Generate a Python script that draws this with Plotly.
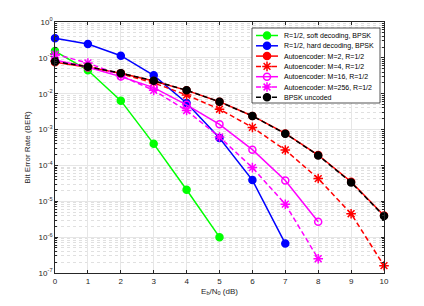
import plotly.graph_objects as go

ebn0 = [0, 1, 2, 3, 4, 5, 6, 7, 8, 9, 10]

soft_x = [0, 1, 2, 3, 4, 5]
soft_ber = [0.155, 0.045, 0.0064, 4.0e-4, 2.1e-5, 1.0e-6]

hard_x = [0, 1, 2, 3, 4, 5, 6, 7]
hard_ber = [0.35, 0.244, 0.115, 0.0326, 0.0055, 5.8e-4, 3.9e-5, 6.6e-7]

ae2_x = ebn0
ae2_ber = [0.076, 0.055, 0.037, 0.0225, 0.0124, 0.0060, 0.0024, 7.8e-4, 1.95e-4, 3.5e-5, 4.0e-6]

ae4_x = ebn0
ae4_ber = [0.082, 0.058, 0.036, 0.020, 0.0092, 0.0037, 1.15e-3, 2.7e-4, 4.3e-5, 4.5e-6, 1.6e-7]

ae16_x = [0, 1, 2, 3, 4, 5, 6, 7, 8]
ae16_ber = [0.087, 0.055, 0.030, 0.0148, 0.0049, 1.4e-3, 2.75e-4, 3.8e-5, 2.7e-6]

ae256_x = [0, 1, 2, 3, 4, 5, 6, 7, 8]
ae256_ber = [0.126, 0.072, 0.032, 0.0124, 0.0034, 6.2e-4, 8.7e-5, 8.3e-6, 2.5e-7]

bpsk_x = ebn0
bpsk_ber = [0.0786, 0.0563, 0.0375, 0.0229, 0.0125, 0.00595, 0.00239, 7.7e-4, 1.9e-4, 3.36e-5, 3.87e-6]

y_tickvals = [1e0, 1e-1, 1e-2, 1e-3, 1e-4, 1e-5, 1e-6, 1e-7]
y_ticktext = ["10<sup>0</sup>", "10<sup>-1</sup>", "10<sup>-2</sup>", "10<sup>-3</sup>",
              "10<sup>-4</sup>", "10<sup>-5</sup>", "10<sup>-6</sup>", "10<sup>-7</sup>"]

series = [
    ("R=1/2, soft decoding, BPSK", soft_x, soft_ber, "#00ff00", "solid", "circle", 7),
    ("R=1/2, hard decoding, BPSK", hard_x, hard_ber, "#0000ff", "solid", "circle", 7),
    ("Autoencoder: M=2, R=1/2", ae2_x, ae2_ber, "#ff0000", "solid", "circle", 7),
    ("Autoencoder: M=4, R=1/2", ae4_x, ae4_ber, "#ff0000", "5px,3px", "asterisk-open", 8),
    ("Autoencoder: M=16, R=1/2", ae16_x, ae16_ber, "#ff00ff", "solid", "circle-open", 7),
    ("Autoencoder: M=256, R=1/2", ae256_x, ae256_ber, "#ff00ff", "5px,3px", "asterisk-open", 8),
    ("BPSK uncoded", bpsk_x, bpsk_ber, "#000000", "5px,3px", "circle", 7),
]

# ---- layout constants (pixels); the page body adds an 8 px offset ----
PAGE_OFF = 8
W, H = 424 - PAGE_OFF, 306 - PAGE_OFF
PX0, PX1 = 55, 384           # plot area x extent, page px
PY0, PY1 = 22, 273           # plot area y extent, page px
L, R = PX0 - PAGE_OFF, PAGE_OFF + W - PX1
T, B = PY0 - PAGE_OFF, PAGE_OFF + H - PY1
LEG_X0, LEG_X1 = 252, 380    # legend box, page px
LEG_Y0, LEG_Y1 = 28, 103
ROW0, ROW_STEP = 35.5, 10.3
SAMPLE_X0, SAMPLE_X1, TEXT_X = 256, 278, 282

font = "Liberation Sans, Arial, sans-serif"

fig = go.Figure()
for name, x, y, color, dash, sym, size in series:
    fig.add_trace(go.Scatter(
        x=x, y=y, name=name, mode="lines+markers", showlegend=False,
        cliponaxis=False, hoverinfo="skip",
        line=dict(color=color, width=1.5, dash=dash),
        marker=dict(symbol=sym, size=size, color=color,
                    line=dict(color=color, width=1.5)),
    ))

# ---- custom legend drawn on an overlay axis measured in pixels ----
fig.add_trace(go.Scatter(
    x=[LEG_X0, LEG_X1, LEG_X1, LEG_X0, LEG_X0],
    y=[LEG_Y0, LEG_Y0, LEG_Y1, LEG_Y1, LEG_Y0],
    xaxis="x2", yaxis="y2", mode="lines", fill="toself",
    fillcolor="white", line=dict(color="#262626", width=0.8),
    showlegend=False, hoverinfo="skip",
))
annotations = []
for i, (name, x, y, color, dash, sym, size) in enumerate(series):
    ry = ROW0 + i * ROW_STEP
    fig.add_trace(go.Scatter(
        x=[SAMPLE_X0, SAMPLE_X1], y=[ry, ry], xaxis="x2", yaxis="y2",
        mode="lines", line=dict(color=color, width=1.5, dash=dash),
        showlegend=False, hoverinfo="skip",
    ))
    fig.add_trace(go.Scatter(
        x=[(SAMPLE_X0 + SAMPLE_X1) / 2], y=[ry], xaxis="x2", yaxis="y2",
        mode="markers", marker=dict(symbol=sym, size=size, color=color,
                                    line=dict(color=color, width=1.5)),
        showlegend=False, hoverinfo="skip",
    ))
    annotations.append(dict(
        x=TEXT_X, y=ry, xref="x2", yref="y2", text=name, showarrow=False,
        xanchor="left", yanchor="middle",
        font=dict(size=7, family=font, color="#000000"),
    ))

fig.update_layout(
    width=W, height=H,
    margin=dict(l=L, r=R, t=T, b=B),
    paper_bgcolor="white", plot_bgcolor="white",
    font=dict(family=font, size=8, color="#262626"),
    showlegend=False,
    annotations=annotations,
    xaxis=dict(
        range=[0, 10], dtick=1, tick0=0, tickmode="linear",
        showgrid=True, gridcolor="#e6e6e6", gridwidth=1,
        showline=True, linecolor="#262626", linewidth=0.8, mirror="ticks",
        ticks="inside", ticklen=3, tickcolor="#262626",
        zeroline=False, automargin=False,
        tickfont=dict(size=8),
        title=dict(text="E<sub>b</sub>/N<sub>0</sub> (dB)", font=dict(size=8), standoff=3),
    ),
    yaxis=dict(
        type="log", range=[-7, 0],
        tickvals=y_tickvals, ticktext=y_ticktext,
        showgrid=True, gridcolor="#e6e6e6", gridwidth=1,
        showline=True, linecolor="#262626", linewidth=0.8, mirror="ticks",
        ticks="inside", ticklen=3, tickcolor="#262626",
        zeroline=False, automargin=False,
        tickfont=dict(size=8),
        minor=dict(dtick="D1", showgrid=True, gridcolor="#e0e0e0", griddash="dot",
                   ticks="inside", ticklen=2, tickcolor="#262626"),
        title=dict(text="Bit Error Rate (BER)", font=dict(size=8), standoff=6),
    ),
    xaxis2=dict(overlaying="x", range=[PX0, PX1], visible=False, fixedrange=True),
    yaxis2=dict(overlaying="y", anchor="x2", range=[PY1, PY0], visible=False, fixedrange=True),
)

fig.write_html("out.html")
